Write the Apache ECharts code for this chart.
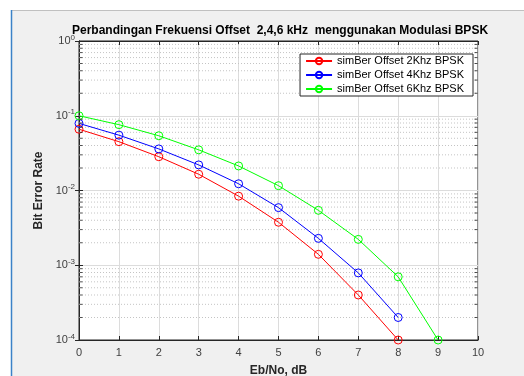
<!DOCTYPE html>
<html>
<head>
<meta charset="utf-8">
<script src="https://cdn.jsdelivr.net/npm/echarts@6/dist/echarts.min.js"></script>
<style>html,body{margin:0;padding:0;background:#fff;}#c{width:524px;height:376px;}</style>
</head>
<body>
<div id="c"></div>
<script>
var ebno = [0, 1, 2, 3, 4, 5, 6, 7, 8, 9];
var ber2k = [0.066, 0.045, 0.0283, 0.0165, 0.0084, 0.00376, 0.0014, 0.0004, 0.0001];
var ber4k = [0.079, 0.055, 0.036, 0.022, 0.0123, 0.0059, 0.00229, 0.00079, 0.0002];
var ber6k = [0.1, 0.076, 0.054, 0.035, 0.0213, 0.0116, 0.00543, 0.00222, 0.0007, 0.0001];
var seriesNames = ['simBer Offset 2Khz BPSK', 'simBer Offset 4Khz BPSK', 'simBer Offset 6Khz BPSK'];
var seriesColors = ['#ff0000', '#0000ff', '#00ff00'];
var xRange = [0, 10];
var yDecades = [-4, -3, -2, -1, 0];
var minorMult = [2, 3, 4, 5, 6, 7, 8, 9];

var FONT = '"Liberation Sans", Arial, sans-serif';
var series = [];
var minorVals = [];
for (var d = 0; d < yDecades.length - 1; d++) {
  for (var m = 0; m < minorMult.length; m++) {
    minorVals.push(minorMult[m] * Math.pow(10, yDecades[d]));
  }
}
// dotted minor grid lines drawn through the log scale
minorVals.forEach(function (v) {
  series.push({
    type: 'line', silent: true, symbol: 'none', z: 1, animation: false,
    data: [[xRange[0], v], [xRange[1], v]],
    lineStyle: { type: [1, 2], color: '#c4c4c4', width: 1 },
    emphasis: { disabled: true }, tooltip: { show: false }
  });
});
// minor tick marks on left and right axis lines
[[xRange[0], 2], [xRange[1], -2]].forEach(function (p) {
  series.push({
    type: 'scatter', silent: true, z: 6, animation: false, clip: false,
    data: minorVals.map(function (v) { return [p[0], v]; }),
    symbol: 'rect', symbolSize: [3, 1], symbolOffset: [p[1], 0],
    itemStyle: { color: '#262626' }, emphasis: { disabled: true }
  });
});
function pairs(arr) { return arr.map(function (v, i) { return [ebno[i], v]; }); }
[ber2k, ber4k, ber6k].forEach(function (arr, i) {
  series.push({
    name: seriesNames[i], type: 'line', data: pairs(arr),
    symbol: 'circle', symbolSize: 8, z: 5,
    lineStyle: { color: seriesColors[i], width: 1 },
    itemStyle: { color: 'rgba(255,255,255,0)', borderColor: seriesColors[i], borderWidth: 1 },
    emphasis: { disabled: true }, animation: false
  });
});

var chart = echarts.init(document.getElementById('c'), null, { renderer: 'canvas' });
chart.setOption({
  animation: false,
  backgroundColor: '#ffffff',
  graphic: [
    { type: 'rect', shape: { x: 12, y: 11, width: 512, height: 365 }, style: { fill: '#f0f0f0' }, z: -10, silent: true },
    { type: 'line', shape: { x1: 12, y1: 10.5, x2: 524, y2: 10.5 }, style: { stroke: '#c0c0c0', lineWidth: 1 }, z: -9, silent: true },
    { type: 'line', shape: { x1: 11.5, y1: 10, x2: 11.5, y2: 376 }, style: { stroke: '#3b82c8', lineWidth: 1.5 }, z: -9, silent: true }
  ],
  title: {
    text: 'Perbandingan Frekuensi Offset  2,4,6 kHz  menggunakan Modulasi BPSK',
    left: 280, top: 25, textAlign: 'center', padding: 0,
    textStyle: { fontFamily: FONT, fontSize: 12, fontWeight: 'bold', color: '#000' }
  },
  legend: {
    orient: 'vertical', right: 51, top: 54,
    backgroundColor: '#ffffff', borderColor: '#262626', borderWidth: 1,
    padding: [1, 9, 1, 5], itemGap: 2, itemWidth: 26, itemHeight: 8,
    textStyle: { fontFamily: FONT, fontSize: 11, color: '#000', lineHeight: 12 },
    data: seriesNames
  },
  grid: { left: 79, right: 46, top: 41, bottom: 36, outerBoundsMode: 'none', containLabel: false, show: true, backgroundColor: '#ffffff', borderColor: '#262626', borderWidth: 1 },
  xAxis: [{
    type: 'value', min: xRange[0], max: xRange[1], interval: 1,
    name: 'Eb/No, dB', nameLocation: 'middle', nameGap: 25,
    nameTextStyle: { fontFamily: FONT, fontSize: 12, fontWeight: 'bold', color: '#262626' },
    axisLine: { show: true, lineStyle: { color: '#262626' } },
    axisTick: { show: true, inside: true, length: 4, lineStyle: { color: '#262626' } },
    axisLabel: { margin: 7, fontFamily: FONT, fontSize: 11, color: '#404040' },
    splitLine: { show: true, lineStyle: { color: '#dcdcdc', width: 1 } }
  }, {
    type: 'value', min: xRange[0], max: xRange[1], interval: 1, position: 'top',
    axisLine: { show: true, lineStyle: { color: '#262626' } },
    axisTick: { show: true, inside: true, length: 4, lineStyle: { color: '#262626' } },
    axisLabel: { show: false }, splitLine: { show: false }
  }],
  yAxis: [{
    type: 'log', logBase: 10, min: 1e-4, max: 1,
    name: 'Bit Error Rate', nameLocation: 'middle', nameGap: 32, nameRotate: 90,
    nameTextStyle: { fontFamily: FONT, fontSize: 12, fontWeight: 'bold', color: '#262626' },
    axisLine: { show: true, lineStyle: { color: '#262626' } },
    axisTick: { show: true, inside: true, length: 4, lineStyle: { color: '#262626' } },
    axisLabel: {
      margin: 4, fontFamily: FONT, color: '#404040',
      formatter: function (v) { return '{b|10}{s|' + Math.round(Math.log10(v)) + '}'; },
      rich: {
        b: { fontFamily: FONT, fontSize: 11, color: '#404040' },
        s: { fontFamily: FONT, fontSize: 8, color: '#404040', padding: [0, 0, 7, 0] }
      }
    },
    splitLine: { show: true, lineStyle: { color: '#dcdcdc', width: 1 } }
  }, {
    type: 'log', logBase: 10, min: 1e-4, max: 1, position: 'right',
    axisLine: { show: true, lineStyle: { color: '#262626' } },
    axisTick: { show: true, inside: true, length: 4, lineStyle: { color: '#262626' } },
    axisLabel: { show: false }, splitLine: { show: false }
  }],
  series: series
});
</script>
</body>
</html>
